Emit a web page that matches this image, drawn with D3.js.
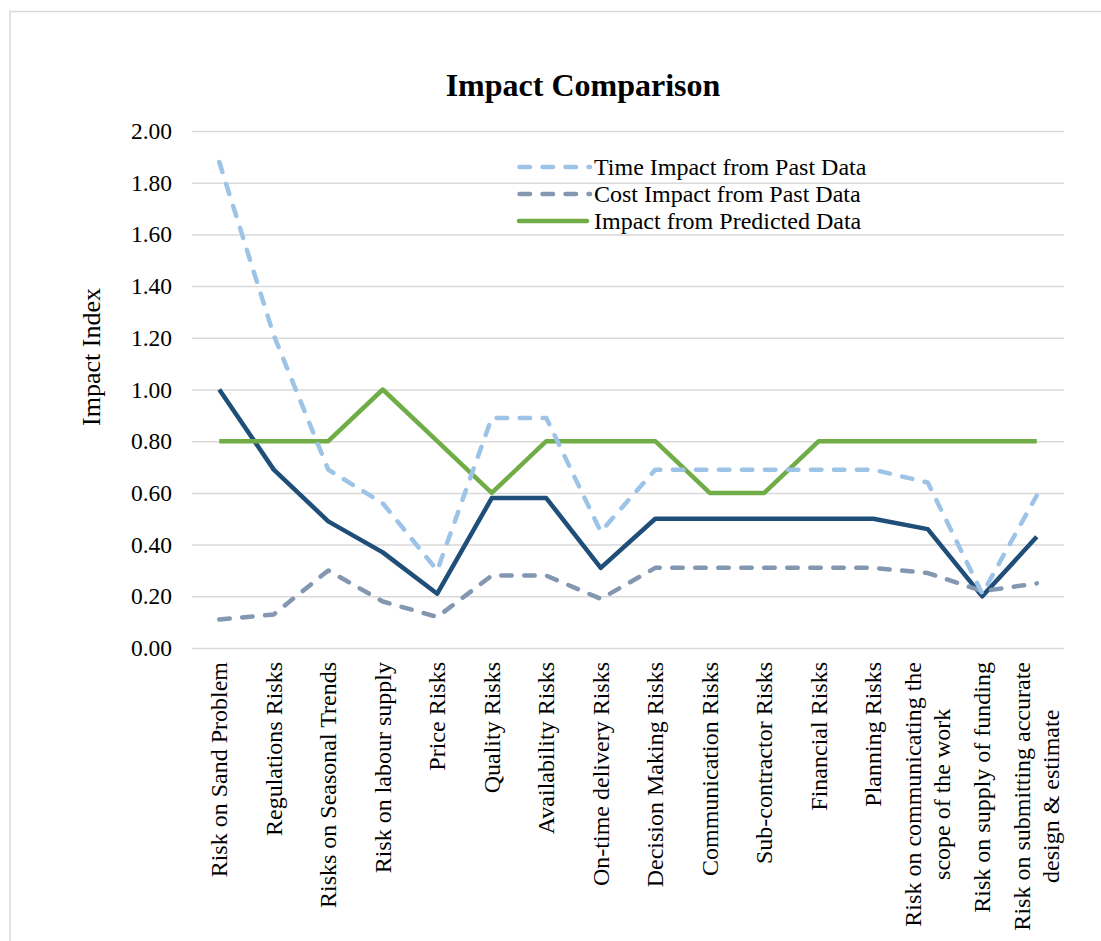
<!DOCTYPE html>
<html>
<head>
<meta charset="utf-8">
<script src="https://cdn.jsdelivr.net/npm/d3@7"></script>
<style>
  html, body { margin: 0; padding: 0; background: #fff; }
  svg { display: block; font-family: "Liberation Serif", "Times New Roman", serif; }
</style>
</head>
<body>
<svg id="chart" width="1101" height="941"></svg>
<script>
// Risk categories along the x axis (multi-line labels split with "\n")
const categories = [
  "Risk on Sand Problem",
  "Regulations Risks",
  "Risks on Seasonal Trends",
  "Risk on labour supply",
  "Price Risks",
  "Quality Risks",
  "Availability Risks",
  "On-time delivery Risks",
  "Decision Making Risks",
  "Communication Risks",
  "Sub-contractor Risks",
  "Financial Risks",
  "Planning Risks",
  "Risk on communicating the\nscope of the work",
  "Risk on supply of funding",
  "Risk on submitting accurate\ndesign & estimate"
];

const timeImpactPast = [1.88, 1.21, 0.69, 0.56, 0.30, 0.89, 0.89, 0.45, 0.69, 0.69, 0.69, 0.69, 0.69, 0.64, 0.21, 0.59];
const costImpactPast = [0.11, 0.13, 0.30, 0.18, 0.12, 0.28, 0.28, 0.19, 0.31, 0.31, 0.31, 0.31, 0.31, 0.29, 0.22, 0.25];
const predictedImpact = [0.80, 0.80, 0.80, 1.00, 0.80, 0.60, 0.80, 0.80, 0.80, 0.60, 0.60, 0.80, 0.80, 0.80, 0.80, 0.80];
const combinedImpact = [1.00, 0.69, 0.49, 0.37, 0.21, 0.58, 0.58, 0.31, 0.50, 0.50, 0.50, 0.50, 0.50, 0.46, 0.20, 0.43];

const yTicks = [0, 0.2, 0.4, 0.6, 0.8, 1.0, 1.2, 1.4, 1.6, 1.8, 2.0];

const series = [
  { name: "Combined", values: combinedImpact, color: "#1f4e79", dash: null },
  { name: "Impact from Predicted Data", values: predictedImpact, color: "#70ad47", dash: null },
  { name: "Cost Impact from Past Data", values: costImpactPast, color: "#8497b0", dash: "10.5,12.5" },
  { name: "Time Impact from Past Data", values: timeImpactPast, color: "#9dc3e6", dash: "10.5,12.5" }
];
const legendOrder = ["Time Impact from Past Data", "Cost Impact from Past Data", "Impact from Predicted Data"];

const svg = d3.select("#chart");
const plot = { left: 192, right: 1064, top: 131, bottom: 648 };

// Outer chart frame
svg.append("path")
  .attr("d", "M10,945 L10,11.5 L1110,11.5")
  .attr("fill", "none")
  .attr("stroke", "#d9d9d9")
  .attr("stroke-width", 1.5);

const x = d3.scaleBand().domain(categories).range([plot.left, plot.right]);
const y = d3.scaleLinear().domain([0, 2]).range([plot.bottom, plot.top]);
const cx = c => x(c) + x.bandwidth() / 2;

// Title
svg.append("text")
  .attr("x", 583).attr("y", 96)
  .attr("text-anchor", "middle")
  .attr("font-size", 32).attr("font-weight", "bold")
  .text("Impact Comparison");

// Gridlines + y tick labels
const yAxis = d3.axisLeft(y)
  .tickValues(yTicks)
  .tickSize(-(plot.right - plot.left))
  .tickPadding(20)
  .tickFormat(d3.format(".2f"));
const gy = svg.append("g")
  .attr("transform", `translate(${plot.left},0)`)
  .call(yAxis);
gy.select(".domain").remove();
gy.selectAll(".tick line").attr("stroke", "#d9d9d9").attr("stroke-width", 1.5);
gy.selectAll(".tick text")
  .attr("font-size", 23.5)
  .attr("font-family", "Liberation Serif, serif")
  .attr("fill", "#000");

// Y axis title
svg.append("text")
  .attr("transform", "translate(100,357) rotate(-90)")
  .attr("text-anchor", "middle")
  .attr("font-size", 26)
  .text("Impact Index");

// Category labels, rotated; multi-line labels centred on their longest line
const labelTop = 662;
const lineGap = 29;
const gx = svg.append("g");
categories.forEach(cat => {
  const lines = cat.split("\n");
  const t = gx.append("text")
    .attr("font-size", 24)
    .attr("fill", "#000");
  lines.forEach(l => t.append("tspan").text(l));
  const lens = [];
  t.selectAll("tspan").each(function () { lens.push(this.getComputedTextLength()); });
  const maxLen = d3.max(lens);
  const center = labelTop + maxLen / 2;
  const xc = cx(cat);
  t.attr("text-anchor", "middle")
    .attr("transform", `translate(${xc},${center}) rotate(-90)`);
  const n = lines.length;
  t.selectAll("tspan")
    .attr("x", 0)
    .attr("y", (d, i) => (i - (n - 1) / 2) * lineGap + 8);
});

// Series lines
const line = d3.line()
  .x((d, i) => cx(categories[i]))
  .y(d => y(d));

series.forEach(s => {
  svg.append("path")
    .datum(s.values)
    .attr("fill", "none")
    .attr("stroke", s.color)
    .attr("stroke-width", 4.5)
    .attr("stroke-linejoin", "round")
    .attr("stroke-linecap", s.dash ? "round" : "butt")
    .attr("stroke-dasharray", s.dash)
    .attr("d", line);
});

// Legend
const legendY = [167, 194, 221];
legendOrder.forEach((name, i) => {
  const s = series.find(d => d.name === name);
  const g = svg.append("g").attr("transform", `translate(0,${legendY[i]})`);
  if (s.dash) {
    g.append("line")
      .attr("x1", 519.5).attr("x2", 590).attr("y1", 0).attr("y2", 0)
      .attr("stroke", s.color).attr("stroke-width", 4.5)
      .attr("stroke-linecap", "round")
      .attr("stroke-dasharray", "10.5,12.5");
  } else {
    g.append("line")
      .attr("x1", 519).attr("x2", 587).attr("y1", 0).attr("y2", 0)
      .attr("stroke", s.color).attr("stroke-width", 4.5)
      .attr("stroke-linecap", "round");
  }
  g.append("text")
    .attr("x", 594).attr("y", 8)
    .attr("font-size", 24)
    .text(name);
});
</script>
</body>
</html>
